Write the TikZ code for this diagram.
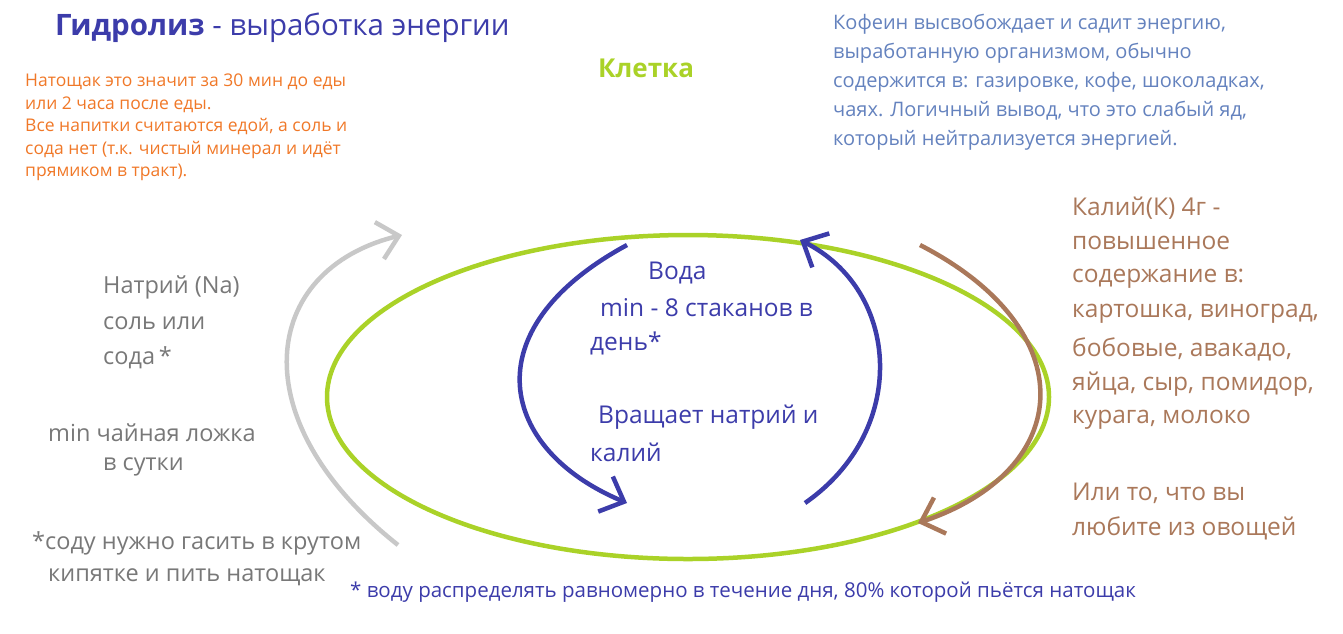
\documentclass[tikz,border=0pt]{standalone}
\usepackage{fontspec}
\setmainfont{Open Sans}
\usetikzlibrary{arrows.meta}
\definecolor{hblue}{RGB}{60,60,170}
\definecolor{cblue}{RGB}{100,130,190}
\definecolor{lgreen}{RGB}{170,210,40}
\definecolor{orng}{RGB}{240,120,40}
\definecolor{gry}{RGB}{120,120,120}
\definecolor{brwn}{RGB}{170,120,90}
\definecolor{lgry}{RGB}{200,200,200}
\tikzset{
  txt/.style={anchor=west,inner sep=0pt,font=\fontsize{24.5}{28}\selectfont},
  small/.style={anchor=north west,inner sep=0pt,align=left,font=\fontsize{17.5}{22.5}\selectfont},
  arc/.style={line width=4.5pt,-{Straight Barb[length=20pt,width=38pt,line width=4.5pt]}}
}
\begin{document}
\begin{tikzpicture}[x=1pt,y=1pt,yscale=-1]
  \useasboundingbox (0,0) rectangle (1343,633);

  % cell
  \draw[lgreen,line width=4.5pt] (688,397) ellipse [x radius=361,y radius=162];

  % arcs
  \coordinate (la) at (627,245);
  \coordinate (lb) at (627,503);
  \coordinate (ra) at (805,503);
  \coordinate (rb) at (800,240);
  \coordinate (ka) at (920,245);
  \coordinate (kb) at (918,523);
  \coordinate (na) at (398,545);
  \coordinate (nb) at (402,235);
  \draw[arc,hblue] (la) .. controls (470,330) and (500,450) .. (lb);
  \draw[arc,hblue] (ra) .. controls (910,430) and (900,290) .. (rb);
  \draw[arc,brwn] (ka) .. controls (1085,330) and (1075,470) .. (kb);
  \draw[arc,lgry] (na) .. controls (240,420) and (260,270) .. (nb);

  % titles
  \node[txt,font=\fontsize{29.5}{32}\selectfont,text=hblue] (title) at (55,28) {\textbf{Гидролиз} - выработка энергии};
  \node[txt,font=\bfseries\fontsize{26}{30}\selectfont,text=lgreen] (cell) at (598,68) {Клетка};

  % notes
  \node[small,text=orng] (fast) at (25,74) {Натощак это значит за 30 мин до еды\\или 2 часа после еды.\\Все напитки считаются едой, а соль и\\сода нет (т.к. чистый минерал и идёт\\прямиком в тракт).};
  \node[small,text=cblue,font=\fontsize{20}{29}\selectfont] (coffee) at (833,14) {Кофеин высвобождает и садит энергию,\\выработанную организмом, обычно\\содержится в: газировке, кофе, шоколадках,\\чаях. Логичный вывод, что это слабый яд,\\который нейтрализуется энергией.};

  % sodium
  \tikzset{gtxt/.style={txt,text=gry,font=\fontsize{23.5}{28}\selectfont}}
  \node[gtxt] (na1) at (103,287) {Натрий (Na)};
  \node[gtxt] (na2) at (103,323) {соль или};
  \node[gtxt] (na3) at (103,358) {сода\,*};
  \node[gtxt] (na4) at (48,433) {min\ чайная ложка};
  \node[gtxt] (na5) at (103,467) {в сутки};
  \node[gtxt] (na6) at (32,543) {*соду нужно гасить в крутом};
  \node[gtxt] (na7) at (48,577) {кипятке и пить натощак};

  % water
  \node[txt,text=hblue] (w1) at (648,273) {Вода};
  \node[txt,text=hblue] (w2) at (600,308) {min - 8 стаканов в};
  \node[txt,text=hblue] (w3) at (590,343) {день*};
  \node[txt,text=hblue] (w4) at (598,417) {Вращает натрий и};
  \node[txt,text=hblue] (w5) at (590,452) {калий};

  % potassium
  \foreach \t [count=\i from 0] in {Калий(К) 4г -,повышенное,содержание в:,{картошка, виноград,},{бобовые, авакадо,},{яйца, сыр, помидор,},{курага, молоко}}
    \node[txt,text=brwn] (k\i) at (1072,208+35.3*\i) {\t};
  \node[txt,text=brwn] (k7) at (1072,493) {Или то, что вы};
  \node[txt,text=brwn] (k8) at (1072,528) {любите из овощей};

  % footnote
  \node[txt,text=hblue,font=\fontsize{20.5}{24}\selectfont] (foot) at (350,592) {*\ воду распределять равномерно в течение дня, 80\% которой пьётся натощак};
\end{tikzpicture}
\end{document}
